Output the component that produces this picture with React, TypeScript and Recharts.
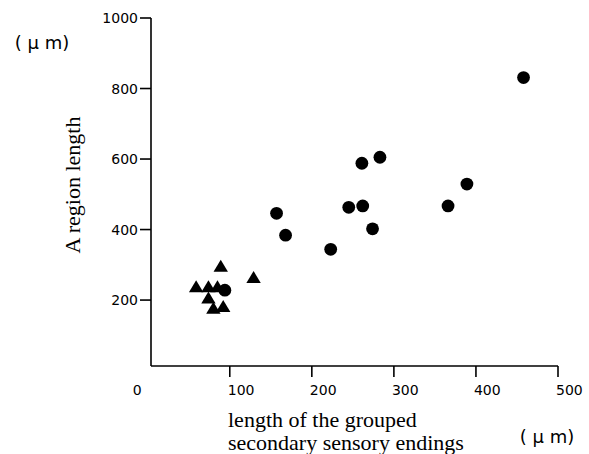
import React from "react";
import { ScatterChart, Scatter, XAxis, YAxis, Label } from "recharts";

// Filled circles (x: grouped secondary ending length, y: A region length), μm
const circleX = [94, 157, 168, 223, 245, 262, 261, 283, 274, 366, 389, 458];
const circleY = [228, 446, 384, 344, 463, 467, 588, 605, 402, 467, 529, 831];

// Filled triangles
const triangleX = [59, 74, 85, 89, 129, 74, 80, 92];
const triangleY = [238, 238, 238, 296, 264, 206, 177, 182];

const xTicks = [0, 100, 200, 300, 400, 500];
const yTicks = [200, 400, 600, 800, 1000];

const xTitleLines = ["length of the grouped", "secondary sensory endings"];
const yTitle = "A region length";
const unitLabel = "( μ m)";

const circles = circleX.map((x, i) => ({ x, y: circleY[i] }));
const triangles = triangleX.map((x, i) => ({ x, y: triangleY[i] }));

const tickFont = "'DejaVu Sans', sans-serif";
const serif = "'Liberation Serif', 'Times New Roman', serif";

const CircleShape = (props: any) => {
  const { cx, cy } = props;
  if (cx == null || cy == null) return null;
  return <circle cx={cx} cy={cy} r={6.4} fill="#000" />;
};

const TriangleShape = (props: any) => {
  const { cx, cy } = props;
  if (cx == null || cy == null) return null;
  const pts = `${cx},${cy - 6.5} ${cx + 7.2},${cy + 5.5} ${cx - 7.2},${cy + 5.5}`;
  return <polygon points={pts} fill="#000" />;
};

const XTick = (props: any) => {
  const { x, y, payload } = props;
  const v = payload.value;
  if (v === 0) {
    return (
      <text x={x - 15} y={y + 16} fontFamily={tickFont} fontSize={14} fill="#000" textAnchor="start">
        0
      </text>
    );
  }
  return (
    <g>
      <line x1={x} x2={x} y1={y - 13} y2={y - 2} stroke="#000" strokeWidth={1.6} />
      <text x={x - 2} y={y + 16} fontFamily={tickFont} fontSize={14} fill="#000" textAnchor="start">
        {v}
      </text>
    </g>
  );
};

const YTick = (props: any) => {
  const { x, y, payload } = props;
  return (
    <g>
      <line x1={x + 2} x2={x + 13} y1={y} y2={y} stroke="#000" strokeWidth={1.6} />
      <text x={x} y={y + 5} fontFamily={tickFont} fontSize={14} fill="#000" textAnchor="end">
        {payload.value}
      </text>
    </g>
  );
};

const XTitle = (props: any) => {
  const vb = props.viewBox || { x: 151, y: 366, width: 407, height: 88 };
  return (
    <g>
      <text x={vb.x + 77} y={vb.y + 61} fontFamily={serif} fontSize={22} fill="#000">
        {xTitleLines[0]}
      </text>
      <text x={vb.x + 77} y={vb.y + 84} fontFamily={serif} fontSize={22} fill="#000">
        {xTitleLines[1]}
      </text>
      <text x={vb.x + vb.width - 11} y={vb.y + 77} fontFamily={tickFont} fontSize={18} fill="#000" textAnchor="middle">
        {unitLabel}
      </text>
    </g>
  );
};

const YTitle = (props: any) => {
  const vb = props.viewBox || { x: 0, y: 18, width: 151, height: 348 };
  const cy = vb.y + 167;
  return (
    <g>
      <text
        x={80}
        y={cy}
        transform={`rotate(-90 80 ${cy})`}
        fontFamily={serif}
        fontSize={22}
        fill="#000"
        textAnchor="middle"
      >
        {yTitle}
      </text>
      <text x={42} y={vb.y + 31} fontFamily={tickFont} fontSize={18} fill="#000" textAnchor="middle">
        {unitLabel}
      </text>
    </g>
  );
};

export default function App() {
  return (
    <div style={{ position: "absolute", left: 0, top: 0, width: 589, height: 454, background: "#fff" }}>
      <ScatterChart width={589} height={454} margin={{ top: 18, right: 31, bottom: 0, left: 0 }}>
        <XAxis
          type="number"
          dataKey="x"
          domain={[4, 500]}
          ticks={xTicks}
          allowDataOverflow
          height={88}
          tickSize={11}
          tickMargin={2}
          tickLine={false}
          tick={<XTick />}
          axisLine={{ stroke: "#000", strokeWidth: 1.6 }}
          interval={0}
        >
          <Label content={<XTitle />} />
        </XAxis>
        <YAxis
          type="number"
          dataKey="y"
          domain={[13, 1000]}
          ticks={yTicks}
          allowDataOverflow
          width={151}
          tickSize={11}
          tickMargin={2}
          tickLine={false}
          tick={<YTick />}
          axisLine={{ stroke: "#000", strokeWidth: 1.6 }}
          interval={0}
        >
          <Label content={<YTitle />} />
        </YAxis>
        <Scatter data={circles} shape={<CircleShape />} isAnimationActive={false} />
        <Scatter data={triangles} shape={<TriangleShape />} isAnimationActive={false} />
      </ScatterChart>
    </div>
  );
}
